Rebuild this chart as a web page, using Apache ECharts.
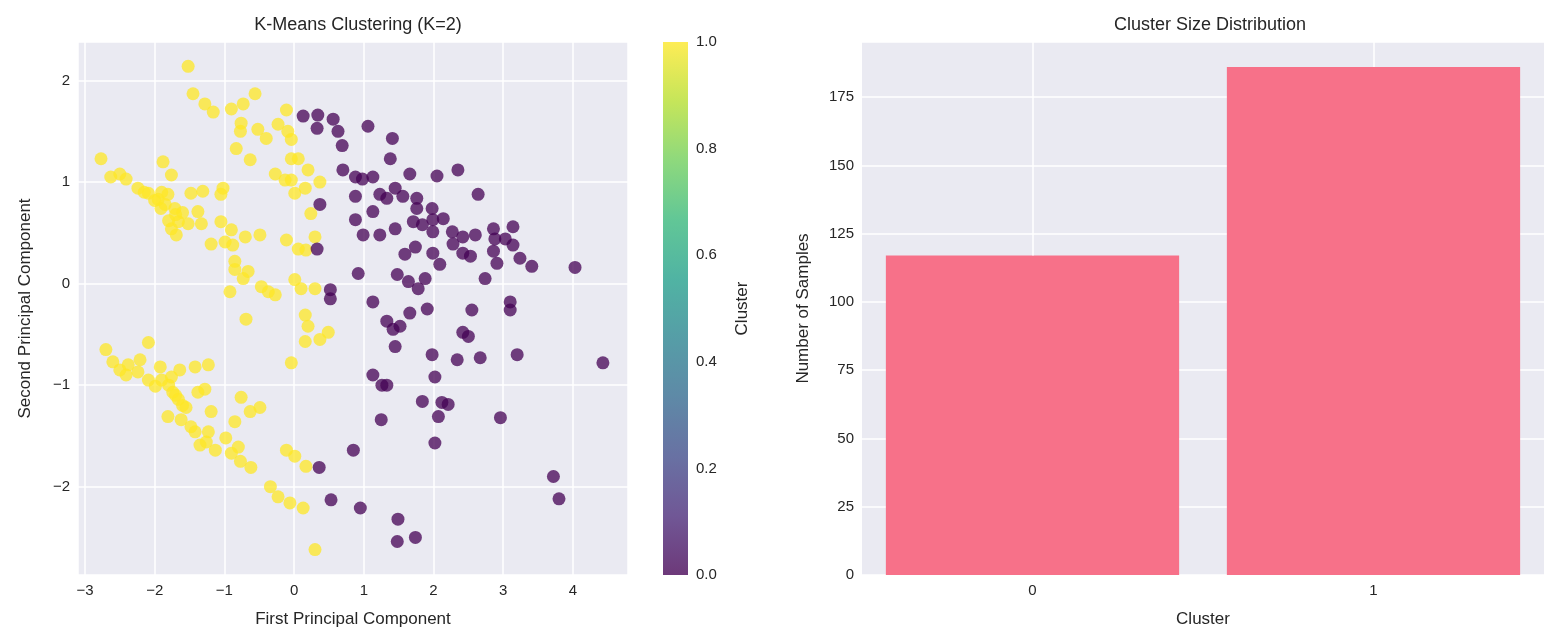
<!DOCTYPE html>
<html>
<head>
<meta charset="utf-8">
<script src="https://cdn.jsdelivr.net/npm/echarts@6/dist/echarts.min.js"></script>
<style>
  html, body { margin: 0; padding: 0; background: #fff; }
  #main { width: 1564px; height: 640px; }
</style>
</head>
<body>
<div id="main"></div>
<script>
// cluster 0 (purple) points in PCA space
const cluster0 = [
  [0.13,1.65],[0.34,1.66],[0.33,1.53],[0.56,1.62],[0.63,1.50],[0.69,1.36],[1.06,1.55],[1.41,1.43],
  [1.38,1.23],[0.70,1.12],[0.88,1.05],[0.98,1.03],[1.13,1.05],[1.66,1.08],[2.05,1.06],[2.35,1.12],
  [2.64,0.88],[0.88,0.86],[1.23,0.88],[1.33,0.84],[1.45,0.94],[1.56,0.86],[1.76,0.84],[1.76,0.74],
  [1.98,0.74],[2.14,0.64],[1.99,0.63],[1.71,0.61],[1.84,0.58],[1.99,0.51],[2.27,0.51],[2.42,0.46],
  [2.60,0.48],[2.86,0.54],[3.14,0.56],[2.88,0.44],[3.03,0.44],[3.14,0.38],[2.86,0.32],[2.91,0.20],
  [3.24,0.25],[3.41,0.17],[4.03,0.16],[2.74,0.05],[2.28,0.39],[2.09,0.19],[1.99,0.30],[1.74,0.36],
  [1.59,0.29],[2.42,0.30],[2.53,0.27],[0.88,0.63],[1.13,0.71],[1.45,0.54],[1.23,0.48],[0.99,0.48],
  [0.37,0.78],[0.33,0.34],[0.92,0.10],[1.48,0.09],[1.64,0.02],[1.78,-0.05],[1.88,0.05],[0.52,-0.06],
  [0.52,-0.15],[1.13,-0.18],[1.33,-0.37],[1.42,-0.45],[1.52,-0.42],[1.66,-0.29],[1.91,-0.25],[2.55,-0.26],
  [3.10,-0.18],[3.10,-0.26],[1.45,-0.62],[1.98,-0.70],[2.34,-0.75],[2.67,-0.73],[3.20,-0.70],[4.43,-0.78],
  [2.42,-0.48],[2.50,-0.52],[1.13,-0.90],[1.26,-1.00],[1.33,-1.00],[2.02,-0.92],[1.84,-1.16],[2.12,-1.17],
  [2.21,-1.19],[2.07,-1.31],[1.25,-1.34],[2.96,-1.32],[2.02,-1.57],[0.85,-1.64],[0.36,-1.81],[3.72,-1.90],
  [3.80,-2.12],[0.53,-2.13],[0.95,-2.21],[1.49,-2.32],[1.48,-2.54],[1.74,-2.50]
];

// cluster 1 (yellow) points in PCA space
const cluster1 = [
  [-1.52,2.14],[-1.45,1.87],[-1.28,1.77],[-1.16,1.69],[-0.90,1.72],[-0.73,1.77],[-0.56,1.87],[-0.11,1.71],
  [-0.76,1.58],[-0.77,1.50],[-0.52,1.52],[-0.40,1.43],[-0.23,1.57],[-0.09,1.50],[-0.04,1.42],[-0.83,1.33],
  [-0.63,1.22],[-0.04,1.23],[0.06,1.23],[-0.27,1.08],[-0.13,1.02],[-0.04,1.02],[0.20,1.12],[0.37,1.00],
  [0.01,0.89],[0.16,0.94],[0.24,0.69],[0.30,0.46],[-0.11,0.43],[0.06,0.34],[0.17,0.33],[0.01,0.04],
  [0.10,-0.05],[0.30,-0.05],[-2.77,1.23],[-2.63,1.05],[-2.50,1.08],[-2.41,1.03],[-1.88,1.20],[-1.76,1.07],
  [-2.24,0.94],[-2.09,0.89],[-1.95,0.83],[-1.81,0.88],[-1.91,0.74],[-1.71,0.74],[-1.66,0.61],[-1.76,0.54],
  [-1.69,0.48],[-1.52,0.59],[-1.33,0.59],[-1.48,0.89],[-1.31,0.91],[-1.38,0.71],[-1.02,0.94],[-1.05,0.88],
  [-1.05,0.61],[-0.90,0.53],[-0.70,0.46],[-0.49,0.48],[-1.19,0.39],[-0.99,0.41],[-0.88,0.38],[-0.85,0.22],
  [-0.85,0.14],[-0.66,0.12],[-0.73,0.05],[-0.92,-0.08],[-0.47,-0.03],[-0.37,-0.08],[-0.27,-0.11],
  [-2.00,0.82],[-1.85,0.78],[-1.60,0.70],[-1.70,0.68],[-1.90,0.90],[-2.15,0.90],[-1.80,0.62],
  [-2.70,-0.65],[-2.60,-0.77],[-2.38,-0.80],[-2.21,-0.75],[-2.09,-0.58],[-2.41,-0.90],[-2.24,-0.87],[-2.09,-0.95],
  [-1.99,-1.01],[-1.92,-0.82],[-1.76,-0.92],[-1.64,-0.85],[-1.42,-0.82],[-1.23,-0.80],[-1.74,-1.07],[-1.66,-1.14],
  [-1.55,-1.22],[-1.81,-1.31],[-1.62,-1.34],[-1.48,-1.41],[-1.42,-1.46],[-1.23,-1.46],[-1.35,-1.59],[-1.26,-1.56],
  [-1.13,-1.64],[-1.38,-1.07],[-1.28,-1.04],[-1.19,-1.26],[-0.98,-1.52],[-0.80,-1.61],[-0.90,-1.67],[-0.77,-1.75],
  [-0.62,-1.81],[-0.85,-1.36],[-0.76,-1.12],[-0.63,-1.26],[-0.49,-1.22],[-0.11,-1.64],[0.01,-1.70],[0.17,-1.80],
  [-0.34,-2.00],[-0.23,-2.10],[-0.06,-2.16],[0.13,-2.21],[0.30,-2.62],[-0.69,-0.35],[-0.04,-0.78],[0.16,-0.31],
  [0.20,-0.42],[0.16,-0.57],[0.37,-0.55],[0.49,-0.48],
  [-1.80,-1.00],[-1.70,-1.10],[-1.90,-0.95],[-2.50,-0.85],[-1.60,-1.20]
];

const clusterNames = ['0', '1'];
const clusterSizes = [117, 186];

const bg = '#eaeaf2';
const textColor = '#262626';
const font = 'Liberation Sans';
const viridis = ['#440154', '#482878', '#3e4989', '#31688e', '#26828e', '#1f9e89', '#35b779', '#6ece58', '#b5de2b', '#fde725'];
const barMax = 195.2;

const chart = echarts.init(document.getElementById('main'));

const gradStops = viridis.map((c, i) => ({ offset: 1 - i / (viridis.length - 1), color: c }));

const labelStyle = { color: textColor, fontSize: 15, fontFamily: font };
const nameStyle = { color: textColor, fontSize: 17, fontFamily: font };
const minus = v => (v < 0 ? '\u2212' + (-v) : String(v));

chart.setOption({
  animation: false,
  backgroundColor: '#fff',
  title: [
    { text: 'K-Means Clustering (K=2)', left: 353, top: 11, textAlign: 'center',
      textStyle: { color: textColor, fontSize: 18, fontWeight: 'normal', fontFamily: font } },
    { text: 'Cluster Size Distribution', left: 1205, top: 11, textAlign: 'center',
      textStyle: { color: textColor, fontSize: 18, fontWeight: 'normal', fontFamily: font } }
  ],
  grid: [
    { left: 78, top: 42, width: 550, height: 533, show: true, backgroundColor: bg, borderWidth: 0 },
    { left: 663, top: 42, width: 25, height: 533, show: false },
    { left: 862, top: 42, width: 682, height: 533, show: true, backgroundColor: bg, borderWidth: 0 }
  ],
  xAxis: [
    { gridIndex: 0, type: 'value', min: -3.1, max: 4.79, splitNumber: 8,
      name: 'First Principal Component', nameLocation: 'middle', nameGap: 36, nameTextStyle: nameStyle,
      axisLine: { show: false }, axisTick: { show: false },
      axisLabel: Object.assign({ showMinLabel: false, showMaxLabel: false, formatter: minus }, labelStyle),
      splitLine: { lineStyle: { color: '#fff', width: 1.5 } } },
    { gridIndex: 1, type: 'category', data: ['c'], show: false },
    { gridIndex: 2, type: 'category', data: clusterNames,
      name: 'Cluster', nameLocation: 'middle', nameGap: 36, nameTextStyle: nameStyle,
      axisLine: { show: false }, axisTick: { show: false }, axisLabel: labelStyle,
      splitLine: { show: false } }
  ],
  yAxis: [
    { gridIndex: 0, type: 'value', min: -2.87, max: 2.38, splitNumber: 5,
      name: 'Second Principal Component', nameLocation: 'middle', nameGap: 44, nameTextStyle: nameStyle,
      axisLine: { show: false }, axisTick: { show: false },
      axisLabel: Object.assign({ showMinLabel: false, showMaxLabel: false, formatter: minus }, labelStyle),
      splitLine: { lineStyle: { color: '#fff', width: 1.5 } } },
    { gridIndex: 1, type: 'value', min: 0, max: 1, interval: 0.2, position: 'right',
      name: 'Cluster', nameLocation: 'middle', nameGap: 46, nameRotate: 90, nameTextStyle: nameStyle,
      axisLine: { show: false }, axisTick: { show: false },
      axisLabel: Object.assign({ formatter: v => v.toFixed(1), margin: 8 }, labelStyle),
      splitLine: { show: false } },
    { gridIndex: 2, type: 'value', min: 0, max: barMax, interval: 25,
      name: 'Number of Samples', nameLocation: 'middle', nameGap: 50, nameTextStyle: nameStyle,
      axisLine: { show: false }, axisTick: { show: false },
      axisLabel: Object.assign({ showMaxLabel: false }, labelStyle),
      splitLine: { lineStyle: { color: '#fff', width: 1.5 } } }
  ],
  series: [
    { type: 'scatter', xAxisIndex: 0, yAxisIndex: 0, data: cluster1, symbolSize: 13,
      itemStyle: { color: '#fde725', opacity: 0.75 } },
    { type: 'scatter', xAxisIndex: 0, yAxisIndex: 0, data: cluster0, symbolSize: 13,
      itemStyle: { color: '#440154', opacity: 0.75 } },
    { type: 'bar', xAxisIndex: 1, yAxisIndex: 1, data: [1], barWidth: '100%', silent: true,
      itemStyle: { color: new echarts.graphic.LinearGradient(0, 0, 0, 1, gradStops), opacity: 0.78 } },
    { type: 'bar', xAxisIndex: 2, yAxisIndex: 2, data: clusterSizes, barCategoryGap: '14%',
      itemStyle: { color: '#f77189' },
      // vertical white gridlines at category centres, visible only above the bars
      markLine: { symbol: 'none', silent: true, label: { show: false },
        lineStyle: { color: '#fff', width: 1.5, type: 'solid' },
        data: clusterNames.map((n, i) => [{ xAxis: n, yAxis: clusterSizes[i] }, { xAxis: n, yAxis: barMax }]) } }
  ]
});
</script>
</body>
</html>
